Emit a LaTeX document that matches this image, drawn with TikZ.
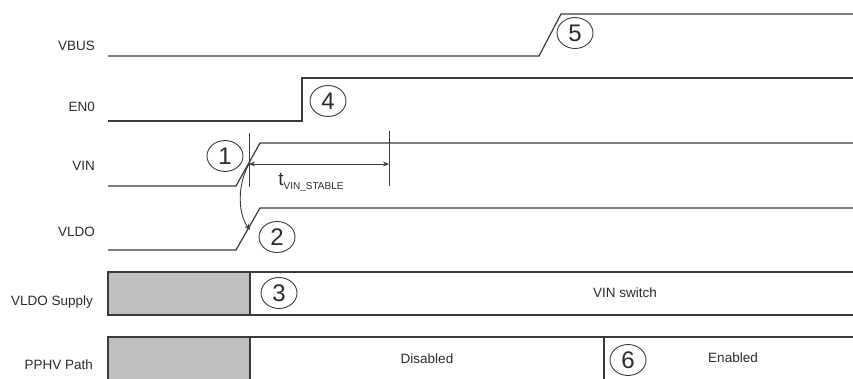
\documentclass[tikz,border=0pt]{standalone}
\usepackage{fontspec}
\setmainfont{Liberation Sans}
\usetikzlibrary{positioning, arrows.meta, shapes.geometric, calc}
\definecolor{LineA}{HTML}{3A3A3A}
\definecolor{GrayA}{HTML}{BEBFC1}
\definecolor{TextA}{HTML}{2B2B2B}
\tikzset{
  sig/.style={draw=LineA, line width=1.2pt},
  lbl/.style={anchor=east, font=\fontsize{13.5}{16}\selectfont, text=TextA, inner sep=0pt},
  txt/.style={font=\fontsize{13.5}{16}\selectfont, text=TextA, inner sep=0pt},
  num/.style={draw=LineA, ellipse, line width=0.9pt, minimum width=36pt, minimum height=31pt, inner sep=0pt, text=TextA, font=\fontsize{24}{26}\selectfont},
  guide/.style={draw=LineA, line width=0.9pt},
  off/.style={fill=GrayA, draw=LineA, line width=1.2pt},
  arr/.style={-{Stealth[length=6pt,width=5pt]}, draw=LineA, line width=0.9pt},
  dim/.style={{Stealth[length=6pt,width=5pt]}-{Stealth[length=6pt,width=5pt]}, draw=LineA, line width=0.9pt}
}

\begin{document}
\begin{tikzpicture}[x=1pt, y=-1pt]
  \useasboundingbox (0,0) rectangle (853,379);

  % signal names
  \node[lbl] (vbusLbl) at (95,46) {VBUS};
  \node[lbl] (en0Lbl)  at (95,107) {EN0};
  \node[lbl] (vinLbl)  at (95,166) {VIN};
  \node[lbl] (vldoLbl) at (95,232) {VLDO};
  \node[lbl] (supLbl)  at (93,302) {VLDO Supply};
  \node[lbl] (pathLbl) at (93,365) {PPHV Path};

  % waveforms
  \draw[sig] (108,56) -- (539,56) -- (561,14) -- (853,14);
  \draw[sig] (108,121) -- (302,121) -- (302,78) -- (853,78);
  \draw[sig] (108,186) -- (236,186) -- (260,143) -- (853,143);
  \draw[sig] (108,250) -- (236,250) -- (260,208) -- (853,208);

  % state bars
  \draw[off] (108,272) rectangle (250,315);
  \draw[sig] (853,272) -- (250,272);
  \draw[sig] (250,315) -- (853,315);
  \draw[off] (108,337) rectangle (250,380);
  \draw[sig] (250,337) -- (853,337);
  \draw[sig] (604,337) -- (604,380);

  \node[txt] (vinSw)    at (625,293) {VIN switch};
  \node[txt] (disabled) at (427,359) {Disabled};
  \node[txt] (enabled)  at (733,358) {Enabled};

  % VIN stable window
  \coordinate (vinRise) at (249,164);
  \coordinate (vinDone) at (389,164);
  \coordinate (ldoRise) at (250,230);
  \draw[guide] (249,133) -- (249,187);
  \draw[guide] (389,131) -- (389,186);
  \draw[dim] (vinRise) -- (vinDone);
  \node[text=TextA, inner sep=0pt] (tStable) at (311,182)
    {\fontsize{19}{21}\selectfont t\raisebox{-4pt}{\fontsize{10}{12}\selectfont VIN\_STABLE}};
  \draw[arr] (vinRise) .. controls (237,185) and (238,214) .. (ldoRise);

  % event markers
  \node[num] (ev1) at (225,156) {1};
  \node[num] (ev2) at (277,237) {2};
  \node[num] (ev3) at (279,293) {3};
  \node[num] (ev4) at (328,101) {4};
  \node[num] (ev5) at (575,33)  {5};
  \node[num] (ev6) at (628,360) {6};
\end{tikzpicture}
\end{document}
